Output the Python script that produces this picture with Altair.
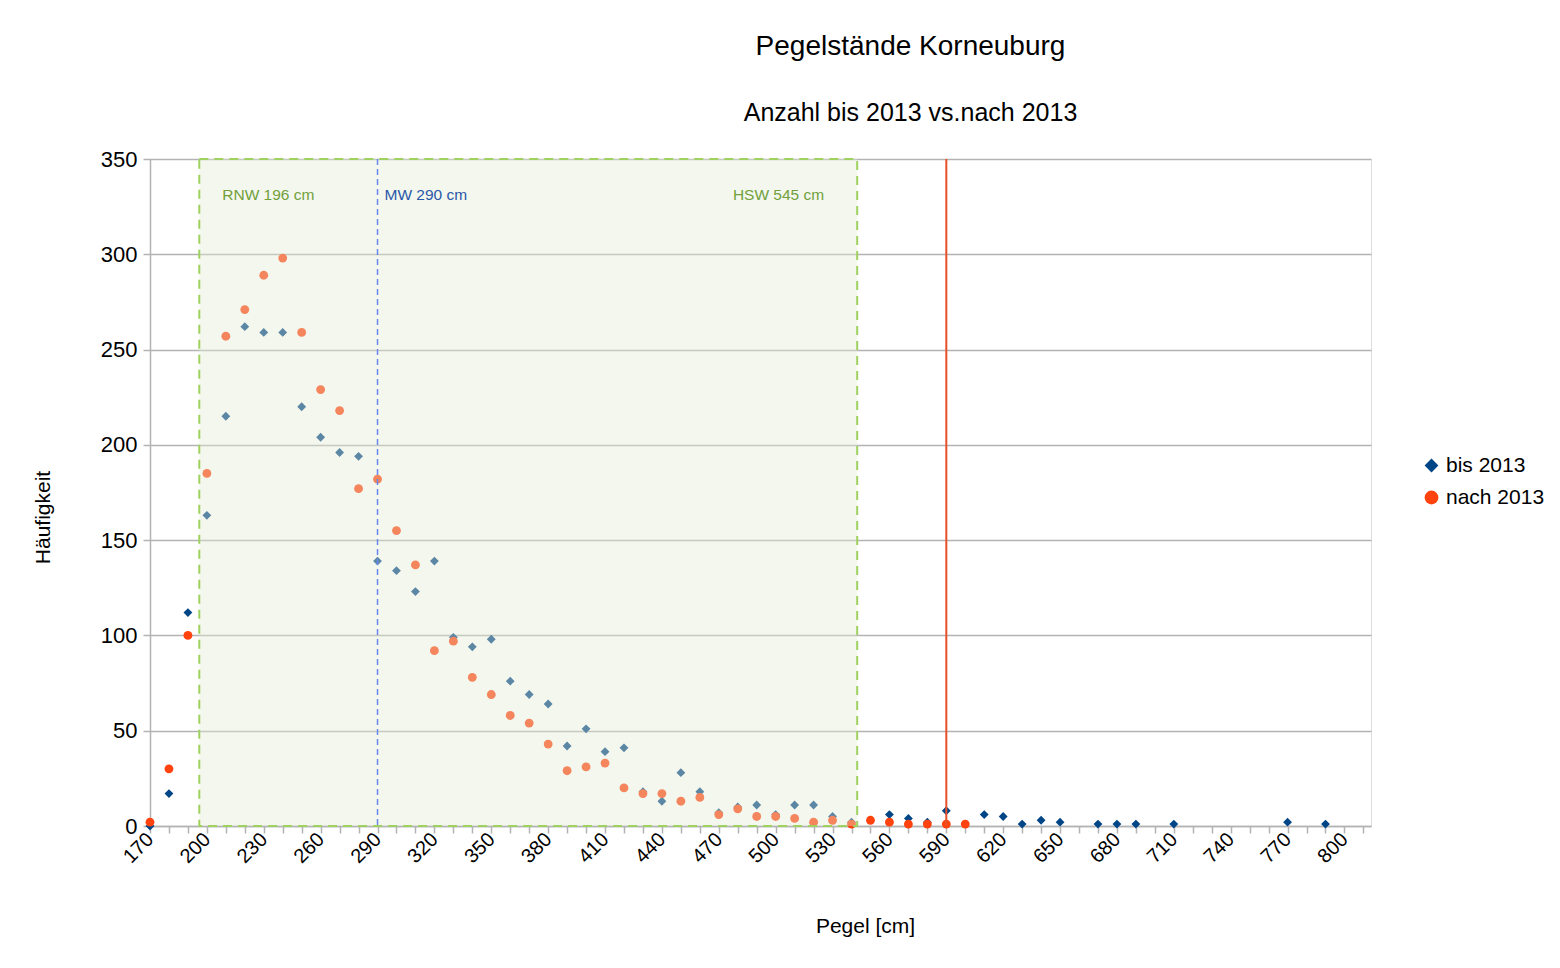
import altair as alt
import pandas as pd

pegel = [170, 180, 190, 200, 210, 220, 230, 240, 250, 260, 270, 280, 290, 300, 310,
         320, 330, 340, 350, 360, 370, 380, 390, 400, 410, 420, 430, 440, 450, 460,
         470, 480, 490, 500, 510, 520, 530, 540, 550, 560, 570, 580, 590, 600, 610,
         620, 630, 640, 650, 660, 670, 680, 690, 700, 710, 720, 730, 740, 750, 760,
         770, 780, 790]

bis_2013 = [0, 17, 112, 163, 215, 262, 259, 259, 220, 204, 196, 194, 139, 134, 123,
            139, 99, 94, 98, 76, 69, 64, 42, 51, 39, 41, 18, 13, 28, 18,
            7, 10, 11, 6, 11, 11, 5, 2, None, 6, 4, 2, 8, None, 6,
            5, 1, 3, 2, None, 1, 1, 1, None, 1, None, None, None, None, None,
            2, None, 1]

nach_2013 = [2, 30, 100, 185, 257, 271, 289, 298, 259, 229, 218, 177, 182, 155, 137,
             92, 97, 78, 69, 58, 54, 43, 29, 31, 33, 20, 17, 17, 13, 15,
             6, 9, 5, 5, 4, 2, 3, 1, 3, 2, 1, 1, 1, 1, None,
             None, None, None, None, None, None, None, None, None, None, None, None, None, None, None,
             None, None, None]

series_names = ["bis 2013", "nach 2013"]
series_colors = ["#004586", "#ff420e"]
series_shapes = ["diamond", "circle"]

zone_start = [196]
zone_end = [543]
zone_labels = ["RNW 196 cm", "HSW 545 cm"]
mw_value = [290]
mw_label = ["MW 290 cm"]
marker_value = [590]

x_ticks = list(range(170, 811, 10))
y_ticks = [0, 50, 100, 150, 200, 250, 300, 350]

rows = []
for p, v in zip(pegel, bis_2013):
    if v is not None:
        rows.append({"Pegel": p, "Anzahl": v, "Serie": series_names[0]})
for p, v in zip(pegel, nach_2013):
    if v is not None:
        rows.append({"Pegel": p, "Anzahl": v, "Serie": series_names[1]})
df = pd.DataFrame(rows)

FONT = "Liberation Sans"
xscale = alt.Scale(domain=[170, 814], nice=False, zero=False)
yscale = alt.Scale(domain=[0, 350], nice=False)

points = alt.Chart(df).mark_point(filled=True, opacity=1, strokeWidth=0, size=78).encode(
    x=alt.X("Pegel:Q", scale=xscale,
            axis=alt.Axis(values=x_ticks, tickCount=200, labelOverlap=False, labelFlush=False,
                          labelExpr="(datum.value - 170) % 30 == 0 ? datum.label : ''",
                          labelAngle=-45, labelAlign="right", labelBaseline="middle",
                          labelPadding=3, labelFontSize=20, labelFont=FONT, labelColor="#000",
                          tickSize=7, tickColor="#b3b3b3", tickWidth=1.5,
                          domainColor="#b3b3b3", domainWidth=1.5, grid=False,
                          title="Pegel [cm]", titleFont=FONT, titleFontSize=21,
                          titleFontWeight="normal", titleColor="#000",
                          titleX=715, titleY=106, titleBaseline="alphabetic")),
    y=alt.Y("Anzahl:Q", scale=yscale,
            axis=alt.Axis(values=y_ticks, tickCount=20,
                          labelFontSize=22, labelFont=FONT, labelColor="#000", labelPadding=6,
                          tickSize=7, tickColor="#b3b3b3", tickWidth=1.5,
                          domainColor="#b3b3b3", domainWidth=1.5,
                          grid=True, gridColor="#b3b3b3", gridWidth=1.5,
                          title="Häufigkeit", titleFont=FONT, titleFontSize=21,
                          titleFontWeight="normal", titleColor="#000",
                          titleAngle=270, titleX=-101, titleY=358,
                          titleAlign="center", titleBaseline="alphabetic")),
    color=alt.Color("Serie:N", scale=alt.Scale(domain=series_names, range=series_colors),
                    legend=alt.Legend(title=None, orient="none", legendX=1271, legendY=296,
                                      labelFont=FONT, labelFontSize=21, labelColor="#000",
                                      symbolSize=190, rowPadding=10, labelOffset=4,
                                      symbolStrokeWidth=0)),
    shape=alt.Shape("Serie:N", scale=alt.Scale(domain=series_names, range=series_shapes)),
)

zone_df = pd.DataFrame({"x0": zone_start, "x1": zone_end, "y0": [0], "y1": [350]})
zone = alt.Chart(zone_df).mark_rect(
    fill="#e4ebd4", fillOpacity=0.4, stroke="#9fd15f", strokeWidth=2,
    strokeDash=[9, 6]
).encode(x=alt.X("x0:Q", scale=xscale), x2="x1:Q",
         y=alt.Y("y0:Q", scale=yscale), y2="y1:Q")

mw_df = pd.DataFrame({"x": mw_value})
mw_rule = alt.Chart(mw_df).mark_rule(color="#6688ee", strokeWidth=1.5, strokeDash=[6, 4]).encode(
    x=alt.X("x:Q", scale=xscale))

marker_df = pd.DataFrame({"x": marker_value})
marker_rule = alt.Chart(marker_df).mark_rule(color="#e8502a", strokeWidth=2).encode(
    x=alt.X("x:Q", scale=xscale))

lbl_y = [331]
rnw_text = alt.Chart(pd.DataFrame({"x": zone_start, "y": lbl_y, "t": [zone_labels[0]]})).mark_text(
    align="left", baseline="middle", dx=23, font=FONT, fontSize=15.5, color="#71a03c"
).encode(x=alt.X("x:Q", scale=xscale), y=alt.Y("y:Q", scale=yscale), text="t:N")
hsw_text = alt.Chart(pd.DataFrame({"x": zone_end, "y": lbl_y, "t": [zone_labels[1]]})).mark_text(
    align="right", baseline="middle", dx=-33, font=FONT, fontSize=15.5, color="#71a03c"
).encode(x=alt.X("x:Q", scale=xscale), y=alt.Y("y:Q", scale=yscale), text="t:N")
mw_text = alt.Chart(pd.DataFrame({"x": mw_value, "y": lbl_y, "t": mw_label})).mark_text(
    align="left", baseline="middle", dx=7, font=FONT, fontSize=15.5, color="#2a58a8"
).encode(x=alt.X("x:Q", scale=xscale), y=alt.Y("y:Q", scale=yscale), text="t:N")

chart = alt.layer(points, zone, mw_rule, marker_rule, rnw_text, hsw_text, mw_text).properties(
    width=1221, height=667,
    title=alt.TitleParams(text="Pegelstände Korneuburg", subtitle="Anzahl bis 2013 vs.nach 2013",
                          font=FONT, fontSize=28, fontWeight="normal", color="#000",
                          subtitleFont=FONT, subtitleFontSize=25, subtitleColor="#000",
                          anchor="middle", dx=150, offset=22, subtitlePadding=40),
    autosize=alt.AutoSizeParams(type="none"),
    padding={"left": 142, "top": 151, "right": 178, "bottom": 125},
).configure_view(stroke="#b3b3b3", strokeWidth=1.5).configure(background="white")

chart.save("out.html", embed_options={"renderer": "svg", "actions": False})
